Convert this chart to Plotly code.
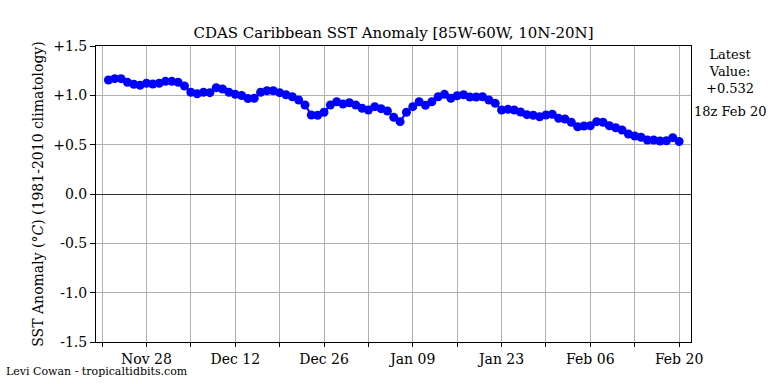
import plotly.graph_objects as go
import pandas as pd

dates = pd.date_range("2023-11-22", "2024-02-20", freq="D")
anomaly = [
    1.155, 1.169, 1.169, 1.132, 1.112, 1.102, 1.122, 1.115, 1.122, 1.142,
    1.142, 1.132, 1.095, 1.031, 1.015, 1.031, 1.027, 1.077, 1.064, 1.031,
    1.010, 0.998, 0.968, 0.970, 1.031, 1.047, 1.047, 1.027, 1.006, 0.986,
    0.953, 0.902, 0.801, 0.798, 0.828, 0.902, 0.935, 0.912, 0.925, 0.902,
    0.869, 0.851, 0.885, 0.865, 0.841, 0.777, 0.733, 0.828, 0.885, 0.935,
    0.899, 0.935, 0.986, 1.010, 0.970, 0.996, 1.006, 0.983, 0.983, 0.986,
    0.953, 0.919, 0.851, 0.858, 0.851, 0.831, 0.804, 0.798, 0.783, 0.801,
    0.808, 0.767, 0.760, 0.727, 0.682, 0.689, 0.692, 0.733, 0.727, 0.692,
    0.672, 0.649, 0.608, 0.588, 0.575, 0.547, 0.547, 0.537, 0.540, 0.571,
    0.532,
]
y_tickvals = [1.5, 1.0, 0.5, 0.0, -0.5, -1.0, -1.5]
y_ticktext = ["+1.5", "+1.0", "+0.5", "0.0", "-0.5", "-1.0", "-1.5"]

serif = "DejaVu Serif, Liberation Serif, serif"

fig = go.Figure()
fig.add_trace(go.Scatter(
    x=dates, y=anomaly, mode="lines+markers",
    line=dict(color="#0000ff", width=2),
    marker=dict(color="#0000ff", size=9),
    showlegend=False,
))

fig.update_layout(
    width=768, height=384,
    margin=dict(l=96, r=77, t=46, b=42, autoexpand=False),
    paper_bgcolor="white", plot_bgcolor="white",
    font=dict(family=serif, size=14, color="black"),
    title=dict(text="CDAS Caribbean SST Anomaly [85W-60W, 10N-20N]",
               x=(96 + 691) / 2 / 768, xanchor="center",
               y=1 - 33 / 384, yanchor="middle",
               font=dict(family=serif, size=15, color="black")),
    xaxis=dict(
        range=["2023-11-20 01:00", "2024-02-21 21:00"],
        type="date",
        tick0="2023-11-28", dtick=14 * 86400000,
        tickformat="%b %d",
        ticks="outside", ticklen=4, tickwidth=1, tickcolor="black",
        showgrid=True, gridcolor="#b0b0b0", gridwidth=1,
        minor=dict(tick0="2023-11-21", dtick=7 * 86400000, ticks="outside",
                   ticklen=4, tickcolor="black", showgrid=True,
                   gridcolor="#b0b0b0", gridwidth=1),
        showline=True, linecolor="black", linewidth=1, mirror=True,
        zeroline=False, automargin=False,
        tickfont=dict(family=serif, size=14),
    ),
    yaxis=dict(
        range=[-1.5, 1.5],
        tickvals=y_tickvals, ticktext=y_ticktext,
        ticks="outside", ticklen=5, tickcolor="black",
        showgrid=True, gridcolor="#b0b0b0", gridwidth=1,
        showline=True, linecolor="black", linewidth=1, mirror=True,
        zeroline=True, zerolinecolor="#333333", zerolinewidth=1,
        automargin=False,
        tickfont=dict(family=serif, size=14),
        title=dict(text="SST Anomaly (<i>°C</i>) (1981-2010 climatology)",
                   font=dict(family=serif, size=14), standoff=6),
    ),
)

fig.add_annotation(text="Latest<br>Value:<br>+0.532", xref="paper", yref="paper",
                   x=(730 - 96) / (691 - 96), y=1 + (46 - 45) / 296,
                   xanchor="center", yanchor="top", showarrow=False,
                   align="center", font=dict(family=serif, size=13))
fig.add_annotation(text="18z Feb 20", xref="paper", yref="paper",
                   x=(730 - 96) / (691 - 96), y=(342 - 111) / 296,
                   xanchor="center", yanchor="middle", showarrow=False,
                   font=dict(family=serif, size=13))
fig.add_annotation(text="Levi Cowan - tropicaltidbits.com", xref="paper", yref="paper",
                   x=(4 - 96) / (691 - 96), y=(342 - 371) / 296,
                   xanchor="left", yanchor="middle", showarrow=False,
                   font=dict(family=serif, size=11))

fig.write_html("out.html", config={"displayModeBar": False},
               post_script="document.body.style.margin='0';document.body.style.padding='0';")
